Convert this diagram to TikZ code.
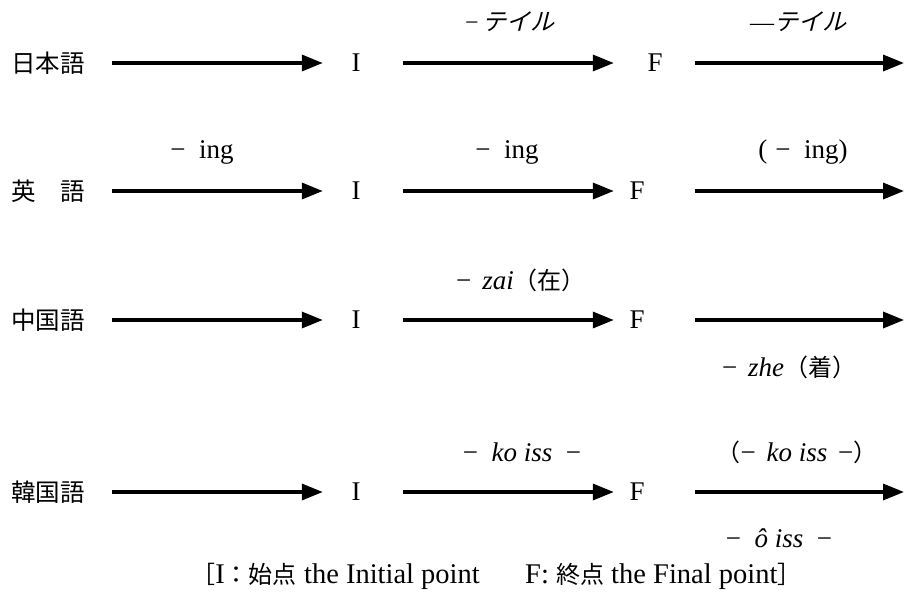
\documentclass[tikz,border=0pt]{standalone}
\usepackage{fontspec}
\setmainfont{Liberation Serif}
\newfontfamily\jp{Noto Sans CJK JP}
\newfontfamily\jpit[FakeSlant=0.25]{Noto Sans CJK JP}
\newcommand\Jt[1]{{\fontsize{24}{24}\jp #1}}
\newcommand\Jti[1]{{\fontsize{24}{24}\jpit #1}}
\usetikzlibrary{arrows.meta}
\begin{document}
\begin{tikzpicture}[x=1pt,y=-1pt,
  lang/.style={anchor=west,inner sep=0pt,font=\fontsize{24.5}{24.5}\jp},
  pnt/.style={inner sep=0pt,font=\fontsize{27}{27}\selectfont},
  lbl/.style={inner sep=0pt,font=\fontsize{27}{27}\selectfont},
  leg/.style={inner sep=0pt,font=\fontsize{28.5}{28.5}\selectfont},
  arr/.style={line width=3.4pt,-{Triangle[length=21pt,width=16pt]}}]
\useasboundingbox (0,0) rectangle (904,594);
% row labels
\node[lang] (L1) at (11,63) {日本語};
\node[lang] (L2) at (11,191) {英\hspace{1em}語};
\node[lang] (L3) at (11,320) {中国語};
\node[lang] (L4) at (11,492) {韓国語};
% points
\node[pnt] (I1) at (356,63) {I};
\node[pnt] (I2) at (356,191) {I};
\node[pnt] (I3) at (356,320) {I};
\node[pnt] (I4) at (356,492) {I};
\node[pnt] (F1) at (655,63) {F};
\node[pnt] (F2) at (637,191) {F};
\node[pnt] (F3) at (637,320) {F};
\node[pnt] (F4) at (637,492) {F};
\coordinate (E1) at (904,63);
\coordinate (E2) at (904,191);
\coordinate (E3) at (904,320);
\coordinate (E4) at (904,492);
% arrows
\foreach \r in {1,2,3,4}{
  \draw[arr] ([xshift=27pt]L\r.east) -- ([xshift=-28.5pt]I\r.west);
}
\foreach \r in {2,3,4}{
  \draw[arr] ([xshift=42.5pt]I\r.east) -- ([xshift=-15.5pt]F\r.west);
  \draw[arr] ([xshift=50.5pt]F\r.east) -- (E\r);
}
\draw[arr] ([xshift=42.5pt]I1.east) -- ([xshift=-33.5pt]F1.west);
\draw[arr] ([xshift=32.5pt]F1.east) -- (E1);
% labels
\node[lbl] (t1) at (510,22) {{\fontsize{24}{24}\selectfont −}\hspace{0.15em}\Jti{テイル}};
\node[lbl] (t2) at (798,22) {{\fontsize{24}{24}\selectfont —}\Jti{テイル}};
\node[lbl] (e1) at (202,152) {−\hspace{0.5em}ing};
\node[lbl] (e2) at (507,152) {−\hspace{0.5em}ing};
\node[lbl] (e3) at (803,152) {(\hspace{0.3em}−\hspace{0.5em}ing)};
\node[lbl] (c1) at (521,280) {−\hspace{0.4em}\textit{zai}\Jt{（在）}};
\node[lbl] (c2) at (789,367) {−\hspace{0.4em}\textit{zhe}\Jt{（着）}};
\node[lbl] (k1) at (522,452) {−\hspace{0.5em}\textit{ko iss}\hspace{0.5em}−};
\node[lbl] (k2) at (797,452) {\Jt{（}−\hspace{0.4em}\textit{ko iss}\hspace{0.4em}−\Jt{）}};
\node[lbl] (k3) at (779,538) {−\hspace{0.5em}\textit{ô iss}\hspace{0.5em}−};
% legend
\node[leg,anchor=east] (leg1) at (480,576) {\Jt{［}I\Jt{：始点} the Initial point};
\node[leg,anchor=west] (leg2) at (525,576) {F: \Jt{終点} the Final point\Jt{］}};
\end{tikzpicture}
\end{document}
